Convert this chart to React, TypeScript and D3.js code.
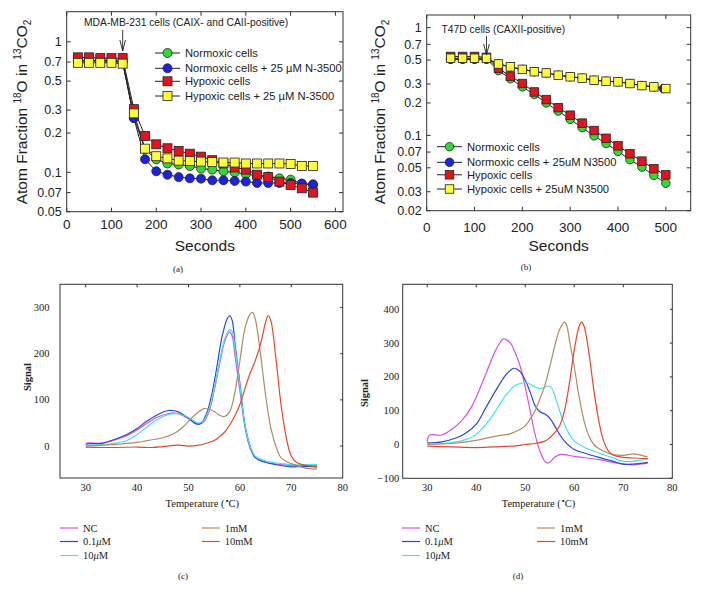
import React from "react";
import * as d3 from "d3";

// ---------- Panel (a) data ----------
const timesA = [25, 50, 75, 100, 125, 150, 175, 200, 225, 250, 275, 300, 325, 350, 375, 400, 425, 450, 475, 500, 525, 550];
const normoxicA = [0.72, 0.72, 0.72, 0.72, 0.71, 0.263, 0.15, 0.126, 0.117, 0.115, 0.112, 0.107, 0.105, 0.102, 0.1, 0.097, 0.094, 0.093, 0.09, 0.088, 0.082, 0.08];
const normoxicInhA = [0.71, 0.71, 0.71, 0.71, 0.7, 0.26, 0.126, 0.102, 0.096, 0.092, 0.09, 0.0895, 0.087, 0.087, 0.086, 0.085, 0.083, 0.083, 0.083, 0.083, 0.082, 0.081];
const hypoxicA = [0.76, 0.76, 0.75, 0.75, 0.75, 0.305, 0.19, 0.164, 0.153, 0.146, 0.139, 0.132, 0.124, 0.117, 0.109, 0.105, 0.096, 0.092, 0.085, 0.08, 0.0755, 0.07];
const hypoxicInhA = [0.69, 0.69, 0.69, 0.69, 0.68, 0.283, 0.152, 0.133, 0.128, 0.123, 0.122, 0.121, 0.12, 0.119, 0.119, 0.117, 0.117, 0.117, 0.117, 0.116, 0.112, 0.112];
const xTicksA = [0, 100, 200, 300, 400, 500, 600];
const yTicksA = [0.05, 0.07, 0.1, 0.2, 0.3, 0.5, 0.7, 1];
const legendA = ["Normoxic cells", "Normoxic cells + 25 \u00b5M N-3500", "Hypoxic cells", "Hypoxic cells + 25 \u00b5M N-3500"];

// ---------- Panel (b) data ----------
const timesB = [50, 75, 100, 125, 150, 175, 200, 225, 250, 275, 300, 325, 350, 375, 400, 425, 450, 475, 500];
const timesBblue = [50, 75, 100, 125, 150, 175, 200, 225, 250, 275, 300, 325, 350, 375, 400, 425, 450, 475, 495];
const normoxicB = [0.51, 0.51, 0.51, 0.51, 0.4, 0.335, 0.282, 0.24, 0.2, 0.168, 0.141, 0.118, 0.099, 0.084, 0.071, 0.0595, 0.0508, 0.0425, 0.036];
const normoxicInhB = [0.51, 0.51, 0.51, 0.51, 0.46, 0.43, 0.41, 0.39, 0.38, 0.362, 0.35, 0.34, 0.325, 0.318, 0.314, 0.303, 0.29, 0.282, 0.272];
const hypoxicB = [0.54, 0.54, 0.54, 0.53, 0.418, 0.355, 0.303, 0.253, 0.215, 0.181, 0.154, 0.13, 0.111, 0.094, 0.08, 0.0675, 0.0577, 0.049, 0.043];
const hypoxicInhB = [0.52, 0.52, 0.52, 0.52, 0.46, 0.433, 0.41, 0.39, 0.38, 0.362, 0.35, 0.34, 0.325, 0.318, 0.314, 0.303, 0.29, 0.282, 0.272];
const xTicksB = [0, 100, 200, 300, 400, 500];
const yTicksB = [0.02, 0.03, 0.05, 0.07, 0.1, 0.2, 0.3, 0.5, 0.7, 1];
const legendB = ["Normoxic cells", "Normoxic cells + 25uM N3500", "Hypoxic cells", "Hypoxic cells + 25uM N3500"];

// ---------- Panel (c) data: [temperature, signal] ----------
const ncC: [number, number][] = [[30, 5], [30.5, 7], [33, 6], [35, 11], [38, 23], [40, 35], [42, 50], [44, 63], [46, 70], [47, 72], [48, 70], [50, 60], [51, 52], [52, 47], [53, 53], [54, 75], [55, 120], [56, 175], [57, 225], [58, 247], [58.5, 238], [59, 200], [60, 120], [61, 40], [62, -5], [63, -25], [65, -35], [68, -40], [70, -42], [75, -42]];
const lowC: [number, number][] = [[30, 3], [30.5, 5], [33, 6], [35, 12], [38, 25], [40, 38], [42, 55], [44, 68], [46, 77], [47, 77], [48, 74], [50, 60], [51.5, 48], [52.5, 50], [53.5, 70], [54.5, 110], [55.5, 170], [56.5, 235], [57.5, 275], [58, 282], [58.5, 272], [59, 225], [60, 135], [61, 45], [62, 0], [63, -25], [65, -35], [68, -42], [70, -45], [72, -44], [75, -45]];
const midC: [number, number][] = [[30, 2], [33, 3], [35, 5], [38, 12], [40, 25], [42, 42], [44, 58], [46, 68], [48, 70], [50, 62], [52, 50], [53, 56], [54, 80], [55, 125], [56, 180], [57, 230], [58, 252], [58.5, 248], [59, 215], [60, 130], [61, 45], [62, 0], [63, -22], [65, -32], [68, -38], [70, -40], [75, -40]];
const mM1C: [number, number][] = [[30, 0], [35, 3], [40, 8], [42, 12], [45, 18], [47, 26], [49, 42], [51, 65], [53, 81], [54, 80], [55, 75], [56, 67], [57, 64], [58, 74], [59, 115], [60, 185], [61, 255], [62, 286], [62.5, 289], [63, 275], [64, 200], [65, 110], [66, 40], [67, 0], [68, -25], [70, -38], [73, -48], [75, -50]];
const mM10C: [number, number][] = [[30, -2], [35, -3], [40, -2], [43, -3], [45, -1], [48, 2], [50, 0], [52, 2], [54, 8], [55, 12], [56, 20], [57, 30], [58, 45], [59, 65], [60, 90], [61, 125], [62, 158], [63, 185], [64, 220], [65, 268], [65.5, 282], [66, 272], [67, 190], [68, 90], [69, 20], [70, -22], [71, -35], [73, -42], [75, -45]];

// ---------- Panel (d) data ----------
const ncD: [number, number][] = [[30, 8], [30.5, 28], [33, 28], [35, 45], [37, 70], [39, 110], [40, 140], [42, 210], [44, 280], [45.5, 312], [46, 311], [47, 300], [48, 270], [49, 230], [50, 170], [51, 100], [52, 30], [53, -20], [54, -50], [54.5, -55], [55, -52], [56, -38], [57, -30], [58, -30], [60, -35], [65, -45], [70, -58], [72, -60], [75, -55]];
const lowD: [number, number][] = [[30, 5], [33, 8], [36, 20], [38, 35], [40, 60], [42, 110], [44, 160], [46, 205], [47.5, 225], [48, 225], [49, 215], [50, 190], [51, 155], [52, 115], [53, 97], [54, 90], [55, 78], [56, 55], [57, 30], [58, 10], [60, -15], [62, -25], [65, -38], [68, -50], [70, -58], [72, -58], [75, -53]];
const midD: [number, number][] = [[30, 2], [33, 3], [36, 8], [38, 15], [40, 30], [42, 60], [44, 100], [46, 145], [48, 175], [49.5, 182], [50.5, 182], [52, 170], [53, 165], [54, 170], [54.8, 173], [55.5, 165], [56, 145], [57, 100], [58, 60], [59, 30], [60, 10], [62, -8], [65, -25], [68, -40], [70, -50], [72, -50], [75, -42]];
const mM1D: [number, number][] = [[30, 0], [35, 3], [40, 12], [43, 22], [45, 27], [47, 32], [49, 45], [50, 55], [51, 75], [52, 100], [53, 135], [54, 175], [55, 230], [56, 290], [57, 340], [58, 362], [58.5, 350], [59, 310], [60, 230], [61, 140], [62, 70], [63, 25], [64, 0], [65, -12], [66, -20], [68, -30], [70, -32], [72, -28], [73, -30], [75, -37]];
const mM10D: [number, number][] = [[30, -5], [35, -7], [40, -9], [45, -6], [48, -4], [50, 0], [52, 3], [54, 10], [55, 20], [56, 35], [57, 55], [58, 100], [59, 180], [60, 280], [61, 350], [61.5, 362], [62, 350], [63, 270], [64, 160], [65, 70], [66, 10], [67, -20], [68, -32], [70, -38], [72, -40], [75, -42]];

const xTicksCD = [30, 40, 50, 60, 70, 80];
const yTicksC = [0, 100, 200, 300];
const yTicksD = [-100, 0, 100, 200, 300, 400];
const dscNames = ["NC", "0.1\u03bcM", "10\u03bcM", "1mM", "10mM"];

const SANS = "'Liberation Sans', Arial, Helvetica, sans-serif";
const SERIF = "'Liberation Serif', 'Times New Roman', Times, serif";

const GREEN = "#2edc2e";
const BLUE = "#1a22e6";
const RED = "#e3121c";
const YELLOW = "#ffff33";
const dscColors = ["#dd4ee6", "#2a48d8", "#3fe3ef", "#b48a62", "#e4482c"];

type Shape = "circle" | "square";

function Marker({ shape, x, y, color, s }: { shape: Shape; x: number; y: number; color: string; s: number }) {
  if (shape === "circle") return <circle cx={x} cy={y} r={s / 2} fill={color} stroke="#222" strokeWidth={0.8} />;
  return <rect x={x - s / 2} y={y - s / 2} width={s} height={s} fill={color} stroke="#222" strokeWidth={0.8} />;
}

function LogPanel(props: {
  x: d3.ScaleLinear<number, number>;
  y: d3.ScaleLogarithmic<number, number>;
  xTicks: number[];
  yTicks: number[];
  series: { t: number[]; v: number[]; color: string; shape: Shape }[];
  legendNames: string[];
  legendX: number;
  legendY: number[];
  annotation: string;
  annX: number;
  annY: number;
  annSize: number;
  arrowT: number;
  arrowY0: number;
  arrowY1: number;
  labelX: number;
  labelY: number;
  xTitleY: number;
  xTickY: number;
  ms: number;
}) {
  const { x, y } = props;
  const [l, r] = x.range();
  const [b, t] = y.range();
  const line = d3.line<[number, number]>().x((d) => x(d[0])).y((d) => y(d[1]));
  const ax = x(props.arrowT);
  return (
    <g>
      {props.series.map((s, i) => (
        <path key={"l" + i} d={line(s.t.map((tt, j) => [tt, s.v[j]] as [number, number])) || ""} fill="none" stroke="#222" strokeWidth={1} />
      ))}
      {props.series.map((s, i) => (
        <g key={"m" + i}>
          {s.t.map((tt, j) => (
            <Marker key={j} shape={s.shape} x={x(tt)} y={y(s.v[j])} color={s.color} s={props.ms} />
          ))}
        </g>
      ))}
      <rect x={l} y={t} width={r - l} height={b - t} fill="none" stroke="#333" strokeWidth={1} />
      {props.xTicks.map((v) => (
        <g key={"xt" + v}>
          <line x1={x(v)} x2={x(v)} y1={b} y2={b - 4} stroke="#333" />
          <line x1={x(v)} x2={x(v)} y1={t} y2={t + 4} stroke="#333" />
          <text x={x(v)} y={props.xTickY} textAnchor="middle" fontFamily={SANS} fontSize={13.5} fill="#222">{v}</text>
        </g>
      ))}
      {props.yTicks.map((v) => (
        <g key={"yt" + v}>
          <line x1={l} x2={l + 4} y1={y(v)} y2={y(v)} stroke="#333" />
          <line x1={r} x2={r - 4} y1={y(v)} y2={y(v)} stroke="#333" />
          <text x={l - 5} y={y(v) + 4.3} textAnchor="end" fontFamily={SANS} fontSize={12.5} fill="#222">{String(v)}</text>
        </g>
      ))}
      <text x={(l + r) / 2} y={props.xTitleY} textAnchor="middle" fontFamily={SANS} fontSize={15.5} fill="#222">Seconds</text>
      <text transform={`translate(${props.labelX},${props.labelY}) rotate(-90)`} textAnchor="middle" fontFamily={SANS} fontSize={15.5} fill="#222">
        Atom Fraction{" "}
        <tspan fontSize={10} dy={-6}>18</tspan>
        <tspan dy={6}>O in </tspan>
        <tspan fontSize={10} dy={-6}>13</tspan>
        <tspan dy={6}>CO</tspan>
        <tspan fontSize={10} dy={4}>2</tspan>
      </text>
      <text x={props.annX} y={props.annY} fontFamily={SANS} fontSize={props.annSize} fill="#222">{props.annotation}</text>
      <path d={`M${ax},${props.arrowY0} L${ax},${props.arrowY1} M${ax - 2.8},${props.arrowY1 - 11} L${ax},${props.arrowY1} L${ax + 2.8},${props.arrowY1 - 11}`} fill="none" stroke="#222" strokeWidth={0.9} />
      {props.series.map((s, i) => {
        const ly = props.legendY[i];
        return (
          <g key={"lg" + i}>
            <line x1={props.legendX} x2={props.legendX + 25} y1={ly} y2={ly} stroke="#222" strokeWidth={1} />
            <Marker shape={s.shape} x={props.legendX + 12.5} y={ly} color={s.color} s={props.ms} />
            <text x={props.legendX + 30} y={ly + 4} fontFamily={SANS} fontSize={11.2} fill="#222">{props.legendNames[i]}</text>
          </g>
        );
      })}
    </g>
  );
}

function DscPanel(props: {
  x: d3.ScaleLinear<number, number>;
  y: d3.ScaleLinear<number, number>;
  yTicks: number[];
  curves: [number, number][][];
  labelGap: number;
  signalX: number;
  signalY: number;
  legendX1: number;
  legendX2: number;
  letter: string;
  letterX: number;
}) {
  const { x, y } = props;
  const [l, r] = x.range();
  const [b, t] = y.range();
  const line = d3.line<[number, number]>().x((d) => x(d[0])).y((d) => y(d[1])).curve(d3.curveCatmullRom.alpha(0.5));
  const rows = [528, 541.5, 555.5];
  const legendPos = [
    [props.legendX1, rows[0]],
    [props.legendX1, rows[1]],
    [props.legendX1, rows[2]],
    [props.legendX2, rows[0]],
    [props.legendX2, rows[1]],
  ];
  return (
    <g>
      <rect x={l} y={t} width={r - l} height={b - t} fill="none" stroke="#333" strokeWidth={1} />
      {xTicksCD.map((v) => (
        <g key={"xt" + v}>
          {v < 80 && <line x1={x(v)} x2={x(v)} y1={t} y2={t + 3} stroke="#333" />}
          <text x={x(v)} y={491} textAnchor="middle" fontFamily={SERIF} fontSize={10.5} fill="#222">{v}</text>
        </g>
      ))}
      {props.yTicks.map((v) => (
        <g key={"yt" + v}>
          <line x1={r} x2={r - 2.5} y1={y(v)} y2={y(v)} stroke="#333" />
          <text x={l - props.labelGap} y={y(v) + 3.5} textAnchor="end" fontFamily={SERIF} fontSize={10.5} fill="#222">{v < 0 ? "\u2212" + Math.abs(v) : v}</text>
        </g>
      ))}
      {props.curves.map((c, i) => (
        <path key={"c" + i} d={line(c) || ""} fill="none" stroke={dscColors[i]} strokeWidth={1.2} />
      ))}
      <text x={(l + r) / 2 + 1} y={506.5} textAnchor="middle" fontFamily={SERIF} fontSize={10.5} fill="#222">Temperature (<tspan fontSize={7} dy={-3.5}>{"\u2218"}</tspan><tspan dy={3.5}>C)</tspan></text>
      <text transform={`translate(${props.signalX},${props.signalY}) rotate(-90)`} textAnchor="middle" fontFamily={SERIF} fontWeight="bold" fontSize={10.5} fill="#222">Signal</text>
      {dscNames.map((n, i) => {
        const [lx, ly] = legendPos[i];
        const parts = n.split("\u03bc");
        return (
          <g key={"lg" + i}>
            <line x1={lx} x2={lx + 18} y1={ly} y2={ly} stroke={dscColors[i]} strokeWidth={1.2} />
            <text x={lx + 23} y={ly + 3.8} fontFamily={SERIF} fontSize={10.5} fill="#222">
              {parts.length > 1 ? (
                <>
                  {parts[0]}
                  <tspan fontStyle="italic">{"\u03bc"}</tspan>
                  {parts[1]}
                </>
              ) : (
                n
              )}
            </text>
          </g>
        );
      })}
      <text x={props.letterX} y={579} textAnchor="middle" fontFamily={SERIF} fontSize={9} fill="#222">{props.letter}</text>
    </g>
  );
}

export default function App() {
  const xA = d3.scaleLinear().domain([0, 617]).range([66.7, 343]);
  const yA = d3.scaleLog().domain([0.05, 1.7]).range([211.7, 11.7]);
  const xB = d3.scaleLinear().domain([0, 552]).range([426.7, 690.7]);
  const yB = d3.scaleLog().domain([0.02, 1.31]).range([210.7, 15]);
  const xC = d3.scaleLinear().domain([25, 80]).range([60, 342.7]);
  const yC = d3.scaleLinear().domain([-69, 350]).range([478, 284.3]);
  const xD = d3.scaleLinear().domain([25, 80]).range([402.7, 672.3]);
  const yD = d3.scaleLinear().domain([-100, 474]).range([478.3, 284.3]);

  const seriesA = [
    { t: timesA, v: normoxicA, color: GREEN, shape: "circle" as Shape },
    { t: timesA, v: normoxicInhA, color: BLUE, shape: "circle" as Shape },
    { t: timesA, v: hypoxicA, color: RED, shape: "square" as Shape },
    { t: timesA, v: hypoxicInhA, color: YELLOW, shape: "square" as Shape },
  ];
  const seriesB = [
    { t: timesB, v: normoxicB, color: GREEN, shape: "circle" as Shape },
    { t: timesBblue, v: normoxicInhB, color: BLUE, shape: "circle" as Shape },
    { t: timesB, v: hypoxicB, color: RED, shape: "square" as Shape },
    { t: timesB, v: hypoxicInhB, color: YELLOW, shape: "square" as Shape },
  ];

  return (
    <svg width={701} height={598} style={{ position: "absolute", left: 0, top: 0, background: "#fff" }}>
      <rect x={0} y={0} width={701} height={598} fill="#fff" />
      <LogPanel x={xA} y={yA} xTicks={xTicksA} yTicks={yTicksA} series={seriesA} legendNames={legendA}
        legendX={155} legendY={[53, 68.3, 81.3, 96]} annotation="MDA-MB-231 cells (CAIX- and CAII-positive)"
        annX={84} annY={25.5} annSize={10.3} arrowT={125} arrowY0={30} arrowY1={51}
        labelX={27} labelY={112} xTitleY={251} xTickY={229} ms={9} />
      <text x={178} y={272} textAnchor="middle" fontFamily={SERIF} fontSize={9} fill="#222">(a)</text>
      <LogPanel x={xB} y={yB} xTicks={xTicksB} yTicks={yTicksB} series={seriesB} legendNames={legendB}
        legendX={437} legendY={[146.7, 162.3, 174.8, 189]} annotation="T47D cells (CAXII-positive)"
        annX={441.5} annY={33} annSize={10.3} arrowT={125} arrowY0={36} arrowY1={55}
        labelX={385} labelY={112} xTitleY={251} xTickY={232} ms={8.5} />
      <text x={526} y={270} textAnchor="middle" fontFamily={SERIF} fontSize={9} fill="#222">(b)</text>
      <DscPanel x={xC} y={yC} yTicks={yTicksC} curves={[ncC, lowC, midC, mM1C, mM10C]}
        labelGap={10.5} signalX={31} signalY={377} legendX1={60} legendX2={201.7} letter="(c)" letterX={183} />
      <DscPanel x={xD} y={yD} yTicks={yTicksD} curves={[ncD, lowD, midD, mM1D, mM10D]}
        labelGap={3.5} signalX={368} signalY={393} legendX1={402} legendX2={537} letter="(d)" letterX={518} />
    </svg>
  );
}
